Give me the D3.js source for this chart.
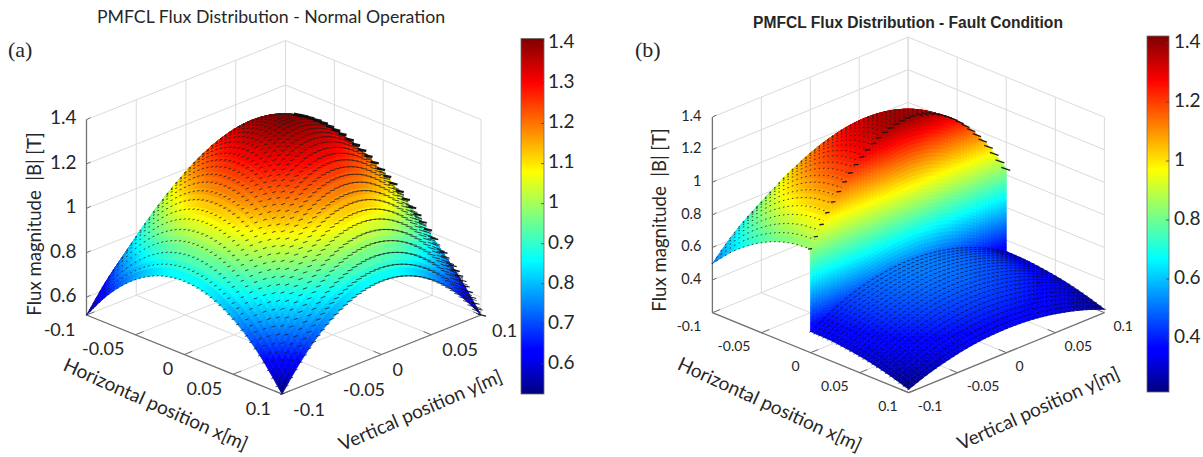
<!DOCTYPE html>
<html><head><meta charset="utf-8">
<script src="https://cdn.jsdelivr.net/npm/d3@7"></script>
<style>html,body{margin:0;background:#fff}svg{display:block}text{fill:#262626;font-family:Lato,"Open Sans",sans-serif;white-space:pre}</style>
</head><body><svg id="c" width="1203" height="457"></svg>
<script>
const xyTicks=[-0.1,-0.05,0,0.05,0.1];
const xyLabels=["-0.1","-0.05","0","0.05","0.1"];
const zTicksA=[0.6,0.8,1,1.2,1.4];
const zLabelsA=["0.6","0.8","1","1.2","1.4"];
const zTicksB=[0.4,0.6,0.8,1,1.2,1.4];
const zLabelsB=["0.4","0.6","0.8","1","1.2","1.4"];
const barTicksA=[0.6,0.7,0.8,0.9,1,1.1,1.2,1.3,1.4];
const barLabelsA=["0.6","0.7","0.8","0.9","1","1.1","1.2","1.3","1.4"];
const barTicksB=[0.4,0.6,0.8,1,1.2,1.4];
const barLabelsB=["0.4","0.6","0.8","1","1.2","1.4"];
const gridY=[-0.1,-0.08,-0.06,-0.04,-0.02,0,0.02,0.04,0.06,0.08,0.1];
const gridXA=[-0.1,-0.08,-0.06,-0.04,-0.02,0,0.02,0.04,0.06,0.08,0.1];
const gridXBack=[-0.1,-0.08,-0.06,-0.04,-0.02,0];
const gridXFront=[0,0.02,0.04,0.06,0.08,0.1];
const fluxNormal=[
[.520,.639,.732,.798,.837,.850,.837,.798,.732,.639,.520],
[.639,.787,.900,.982,1.031,1.047,1.031,.982,.900,.787,.639],
[.732,.900,1.032,1.125,1.182,1.200,1.182,1.125,1.032,.900,.732],
[.798,.982,1.125,1.229,1.289,1.310,1.289,1.229,1.125,.982,.798],
[.837,1.031,1.182,1.289,1.354,1.375,1.354,1.289,1.182,1.031,.837],
[.850,1.047,1.200,1.310,1.375,1.397,1.375,1.310,1.200,1.047,.850],
[.837,1.031,1.182,1.289,1.354,1.375,1.354,1.289,1.182,1.031,.837],
[.798,.982,1.125,1.229,1.289,1.310,1.289,1.229,1.125,.982,.798],
[.732,.900,1.032,1.125,1.182,1.200,1.182,1.125,1.032,.900,.732],
[.639,.787,.900,.982,1.031,1.047,1.031,.982,.900,.787,.639],
[.520,.639,.732,.798,.837,.850,.837,.798,.732,.639,.520]];
const fluxFaultBack=[
[.502,.623,.716,.783,.823,.837,.823,.783,.716,.623,.502],
[.623,.772,.889,.971,1.020,1.037,1.020,.971,.889,.772,.623],
[.716,.889,1.022,1.118,1.174,1.194,1.174,1.118,1.022,.889,.716],
[.783,.971,1.118,1.222,1.284,1.305,1.284,1.222,1.118,.971,.783],
[.823,1.020,1.174,1.284,1.350,1.372,1.350,1.284,1.174,1.020,.823],
[.837,1.037,1.194,1.305,1.372,1.394,1.372,1.305,1.194,1.037,.837]];
const fluxFaultFront=[
[.330,.399,.452,.490,.512,.520,.512,.490,.452,.399,.330],
[.326,.393,.446,.483,.505,.513,.505,.483,.446,.393,.326],
[.312,.377,.428,.463,.485,.492,.485,.463,.428,.377,.312],
[.291,.351,.398,.431,.451,.458,.451,.431,.398,.351,.291],
[.260,.314,.356,.386,.404,.410,.404,.386,.356,.314,.260],
[.221,.267,.302,.328,.343,.348,.343,.328,.302,.267,.221]];

const svg=d3.select("#c");
const jetStops=[[0,"#00007f"],[.11,"#0000ff"],[.125,"#0000ff"],[.375,"#00ffff"],[.625,"#ffff00"],[.875,"#ff0000"],[1,"#7f0000"]];
const jet=d3.scaleLinear(jetStops.map(d=>d[0]),jetStops.map(d=>d[1])).interpolate(d3.interpolateRgb).clamp(true);

function cr(a,t){
  const n=a.length,i=Math.min(n-2,Math.max(0,Math.floor(t))),f=t-i;
  const p1=a[i],p2=a[i+1],p0=i>0?a[i-1]:2*p1-p2,p3=i+2<n?a[i+2]:2*p2-p1;
  return .5*((2*p1)+(-p0+p2)*f+(2*p0-5*p1+4*p2-p3)*f*f+(-p0+3*p1-3*p2+p3)*f*f*f);
}
function sampler(M,xs,ys){
  const xi=d3.scaleLinear([xs[0],xs[xs.length-1]],[0,xs.length-1]);
  const yi=d3.scaleLinear([ys[0],ys[ys.length-1]],[0,ys.length-1]);
  const f=(x,y)=>{const ty=yi(y);return cr(M.map(r=>cr(r,ty)),xi(x));};
  f.x0=xs[0];f.x1=xs[xs.length-1];f.y0=ys[0];f.y1=ys[ys.length-1];
  return f;
}

function panel(o){
  const g=svg.append("g");
  const sxX=d3.scaleLinear([-.1,.1],[o.left[0]-o.front[0],0]);
  const syX=d3.scaleLinear([-.1,.1],[o.left[1]-o.front[1],0]);
  const sxY=d3.scaleLinear([-.1,.1],[0,o.right[0]-o.front[0]]);
  const syY=d3.scaleLinear([-.1,.1],[0,o.right[1]-o.front[1]]);
  const zS=d3.scaleLinear(o.zDomain,[0,o.zHeight]);
  const P=(x,y,z)=>[o.front[0]+sxX(x)+sxY(y),o.front[1]+syX(x)+syY(y)-zS(z)];
  const zBot=o.zDomain[0],zTop=o.zDomain[1];
  const seg=(a,b,st,w)=>g.append("line").attr("x1",a[0]).attr("y1",a[1]).attr("x2",b[0]).attr("y2",b[1]).attr("stroke",st).attr("stroke-width",w);
  const gc="#dadada";
  xyTicks.forEach(t=>{
    seg(P(-.1,t,zBot),P(-.1,t,zTop),gc,1);
    seg(P(t,.1,zBot),P(t,.1,zTop),gc,1);
    seg(P(t,-.1,zBot),P(t,.1,zBot),gc,1);
    seg(P(-.1,t,zBot),P(.1,t,zBot),gc,1);
  });
  o.zTicks.forEach(z=>{
    seg(P(-.1,-.1,z),P(-.1,.1,z),gc,1);
    seg(P(-.1,.1,z),P(.1,.1,z),gc,1);
  });
  const ac="#727272";
  seg(P(-.1,-.1,zBot),P(-.1,-.1,zTop),ac,1.3);
  seg(P(-.1,-.1,zBot),P(.1,-.1,zBot),ac,1.3);
  seg(P(.1,-.1,zBot),P(.1,.1,zBot),ac,1.3);
  xyTicks.forEach(t=>{
    seg(P(t,-.1,zBot),P(t,-.092,zBot),ac,1);
    seg(P(.1,t,zBot),P(.092,t,zBot),ac,1);
  });
  o.zTicks.forEach(z=>{const p=P(-.1,-.1,z);seg([p[0],p[1]],[p[0]+4,p[1]-2],ac,1);});
  const col=d3.scaleLinear(o.barDomain,[0,1]);
  const surfG=g.append("g").style("filter","blur(0.4px)");
  const quad=q=>"M"+q.map(p=>p.join(",")).join("L")+"Z";
  function drawCells(cells){
    surfG.append("g").selectAll("path").data(cells).join("path")
      .attr("d",d=>quad(d.q)).attr("fill",d=>jet(col(d.z))).attr("stroke",d=>jet(col(d.z))).attr("stroke-width",.7);
  }
  function layer(f,nx,ny){
    const cells=[];
    const xv=i=>f.x0+(f.x1-f.x0)*i/nx, yv=j=>f.y0+(f.y1-f.y0)*j/ny;
    for(let i=0;i<nx;i++)for(let j=ny-1;j>=0;j--){
      const a=[xv(i),yv(j)],b=[xv(i+1),yv(j)],c=[xv(i+1),yv(j+1)],d=[xv(i),yv(j+1)];
      const zs=[a,b,c,d].map(p=>f(p[0],p[1]));
      cells.push({q:[a,b,c,d].map((p,k)=>P(p[0],p[1],zs[k])),z:d3.mean(zs)});
    }
    drawCells(cells);
  }
  function facing(f,x,y){
    const e=.002,xa=Math.min(x+e,f.x1),xb=Math.max(x-e,f.x0),ya=Math.min(y+e,f.y1),yb=Math.max(y-e,f.y0);
    const a=P(xa,y,f(xa,y)),a0=P(xb,y,f(xb,y)),b=P(x,ya,f(x,ya)),b0=P(x,yb,f(x,yb));
    return (a[0]-a0[0])*(b[1]-b0[1])-(a[1]-a0[1])*(b[0]-b0[0])<0;
  }
  function slopeAt(f,x,y){
    const e=.002,ya=Math.min(y+e,f.y1),yb=Math.max(y-e,f.y0);
    const a=P(x,ya,f(x,ya)),b=P(x,yb,f(x,yb));
    return (a[1]-b[1])/(a[0]-b[0]);
  }
  const tickMark=(par,p,len,tilt,color,w,op)=>par.append("line")
    .attr("x1",p[0]-len/2).attr("y1",p[1]-len/2*tilt).attr("x2",p[0]+len/2).attr("y2",p[1]+len/2*tilt)
    .attr("stroke",color).attr("stroke-width",w).attr("stroke-opacity",op);
  function lattice(f,nx,ny,m){
    const mg=surfG.append("g");
    for(let i=0;i<=nx;i++)for(let j=0;j<=ny;j++){
      const x=f.x0+(f.x1-f.x0)*i/nx,y=f.y0+(f.y1-f.y0)*j/ny;
      if(!facing(f,x,y))continue;
      const p=P(x,y,f(x,y));
      const t=(p[0]-o.left[0])/(o.right[0]-o.left[0]);
      const s=Math.max(-m.maxTilt,Math.min(m.maxTilt,slopeAt(f,x,y)*m.tilt));
      tickMark(mg,p,m.len(t),s,m.color,m.w,m.op);
    }
  }
  function fold(f,nx,m){
    const mg=surfG.append("g");
    for(let i=0;i<=nx;i++){
      const x=f.x0+(f.x1-f.x0)*i/nx;
      let y=f.y0;
      for(let k=1;k<=200;k++){const v=f.y0+(f.y1-f.y0)*k/200;if(!facing(f,x,v))break;y=v;}
      const z=f(x,y),p=P(x,y,z);
      if(p[0]<m.minSx)continue;
      tickMark(mg,[p[0]+1,p[1]],m.len,m.tilt,"#0c0c0c",m.w(z),.95);
    }
  }
  function ridge(f,x,ny,m){
    const mg=surfG.append("g");
    for(let j=0;j<=ny;j++){
      const y=f.y0+(f.y1-f.y0)*j/ny,p=P(x,y,f(x,y));
      const u=(y-f.y0)/(f.y1-f.y0);
      tickMark(mg,[p[0]-.5,p[1]],m.len(u),m.tilt(u),"#141414",m.w,.95);
    }
  }
  o.draw({layer,lattice,fold,ridge,drawCells,P});
  xyTicks.forEach((t,i)=>{
    const p=P(t,-.1,zBot);
    g.append("text").attr("x",p[0]+o.xOff[0]).attr("y",p[1]+o.xOff[1]).attr("text-anchor","end").attr("dominant-baseline","middle").attr("font-size",o.tickFs).text(xyLabels[i]);
    const q=P(.1,t,zBot);
    g.append("text").attr("x",q[0]+o.yOff[0]).attr("y",q[1]+o.yOff[1]).attr("text-anchor","start").attr("dominant-baseline","middle").attr("font-size",o.tickFs).text(xyLabels[i]);
  });
  o.zTicks.forEach((z,i)=>{
    const p=P(-.1,-.1,z);
    g.append("text").attr("x",p[0]+o.zOff).attr("y",p[1]).attr("text-anchor","end").attr("dominant-baseline","middle").attr("font-size",o.zFs).text(o.zLabels[i]);
  });
  const rot=(c,a,s,fs)=>g.append("text").attr("transform",`translate(${c[0]},${c[1]}) rotate(${a})`).attr("text-anchor","middle").attr("dominant-baseline","middle").attr("font-size",fs).text(s);
  rot(o.xTitle.c,o.xTitle.a,"Horizontal position x[m]",o.xTitle.fs);
  rot(o.yTitle.c,o.yTitle.a,"Vertical position y[m]",o.yTitle.fs);
  rot(o.zTitle.c,-90,"Flux magnitude  |B| [T]",o.zTitle.fs);
  const ti=g.append("text").attr("x",o.title.x).attr("y",o.title.y).attr("text-anchor","middle").attr("dominant-baseline","middle").text(o.title.s).attr("font-size",o.title.fs);
  if(o.title.bold)ti.style("font-family","'Liberation Sans',Arial,sans-serif").attr("font-weight","bold");
  g.append("text").attr("x",o.tag.x).attr("y",o.tag.y).attr("font-size",22).style("font-family","'Liberation Serif',serif").attr("dominant-baseline","middle").text(o.tag.s);
  const b=o.bar,by=d3.scaleLinear(o.barDomain,[b.y1,b.y0]);
  const gid="jet"+o.tag.s.charAt(1);
  const lg=svg.append("defs").append("linearGradient").attr("id",gid).attr("x1",0).attr("x2",0).attr("y1",1).attr("y2",0);
  lg.selectAll("stop").data(jetStops).join("stop").attr("offset",d=>d[0]).attr("stop-color",d=>d[1]);
  g.append("rect").attr("x",b.x0).attr("y",b.y0).attr("width",b.x1-b.x0).attr("height",b.y1-b.y0).attr("fill",`url(#${gid})`).attr("stroke","#6a6a6a").attr("stroke-width",.8);
  o.barTicks.forEach((t,i)=>{
    seg([b.x1-3,by(t)],[b.x1,by(t)],"#444",.8);
    g.append("text").attr("x",b.x1+b.lab).attr("y",by(t)).attr("dominant-baseline","middle").attr("font-size",b.fs).text(o.barLabels[i]);
  });
}

panel({
  front:[282,394],left:[86.5,315],right:[481,315],zDomain:[0.52,1.4],zHeight:195.4,
  zTicks:zTicksA,zLabels:zLabelsA,barDomain:[0.525,1.412],
  barTicks:barTicksA,barLabels:barLabelsA,
  bar:{x0:521,x1:544,y0:38.5,y1:394,lab:4,fs:19},
  xOff:[-11,16],yOff:[11,17],zOff:-10,tickFs:18,zFs:19,
  xTitle:{c:[155,406],a:24,fs:19},yTitle:{c:[421,412],a:-23.4,fs:19},zTitle:{c:[36.5,224],fs:18.6},
  title:{x:271,y:19,s:"PMFCL Flux Distribution - Normal Operation",fs:17.7},
  tag:{x:8,y:52,s:"(a)"},
  draw(k){
    const f=sampler(fluxNormal,gridXA,gridY);
    k.layer(f,64,64);
    k.lattice(f,44,44,{len:t=>1.3+8*Math.pow(t,1.6),tilt:.35,maxTilt:.35,color:"#1a1a1a",w:1,op:.75});
    k.fold(f,60,{minSx:290,len:8,tilt:.22,w:z=>.9+2.2*Math.max(0,z-.55)/.85});
  }
});
panel({
  front:[908.7,392.7],left:[712.4,312.7],right:[1104.4,312.7],zDomain:[0.2,1.4],zHeight:195.6,
  zTicks:zTicksB,zLabels:zLabelsB,barDomain:[0.217,1.424],
  barTicks:barTicksB,barLabels:barLabelsB,
  bar:{x0:1147,x1:1169,y0:36,y1:392,lab:5,fs:19},
  xOff:[-11,15],yOff:[9,15],zOff:-11,tickFs:14,zFs:14.5,
  xTitle:{c:[769,406],a:24.6,fs:19},yTitle:{c:[1039,410],a:-24.3,fs:19},zTitle:{c:[661,220],fs:18.6},
  title:{x:908,y:24,s:"PMFCL Flux Distribution - Fault Condition",fs:15.6,bold:true},
  tag:{x:635,y:52,s:"(b)"},
  draw(k){
    const back=sampler(fluxFaultBack,gridXBack,gridY);
    const front=sampler(fluxFaultFront,gridXFront,gridY);
    k.layer(back,32,64);
    k.lattice(back,22,44,{len:t=>1.5,tilt:.2,maxTilt:.3,color:"#1a1a1a",w:1,op:.8});
    const wall=[];
    const nY=64,nZ=36;
    for(let j=nY-1;j>=0;j--){
      const y0=-.1+.2*j/nY,y1=-.1+.2*(j+1)/nY;
      for(let s=0;s<nZ;s++){
        const lerp=(y,t)=>front(0,y)+(back(0,y)-front(0,y))*t;
        const a=lerp(y0,s/nZ),b=lerp(y1,s/nZ),c=lerp(y1,(s+1)/nZ),d=lerp(y0,(s+1)/nZ);
        wall.push({q:[k.P(0,y0,a),k.P(0,y1,b),k.P(0,y1,c),k.P(0,y0,d)],z:(a+b+c+d)/4});
      }
    }
    k.drawCells(wall);
    k.ridge(back,0,34,{len:u=>4+5*u,tilt:u=>u<.55?-.12:.35,w:1.3});
    k.layer(front,32,64);
    k.lattice(front,22,44,{len:t=>3,tilt:.6,maxTilt:.7,color:"#05082e",w:.9,op:.75});
  }
});
</script></body></html>
